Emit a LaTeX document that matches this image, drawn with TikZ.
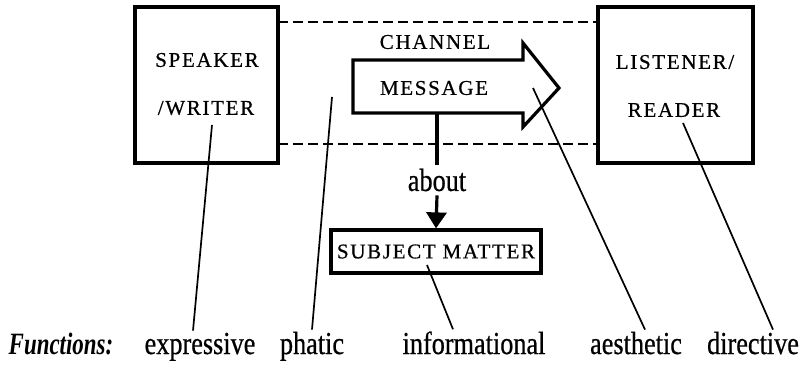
\documentclass[tikz,border=0pt]{standalone}
\usepackage{fontspec}
\usetikzlibrary{arrows.meta}
\setmainfont{Liberation Serif}
\newfontfamily\capfont[LetterSpace=8,FakeBold=0.6]{Liberation Serif}
\newfontfamily\lowfont[FakeStretch=0.82,FakeBold=0.6]{Liberation Serif}
\newfontfamily\funfont[FakeStretch=0.74]{Liberation Serif}
\tikzset{
  box/.style={draw, line width=3.2pt, inner sep=0pt},
  capt/.style={font=\capfont\fontsize{21}{21}\selectfont, inner sep=1pt},
  word/.style={font=\lowfont\fontsize{32}{32}\selectfont, inner sep=2pt, anchor=base},
  dashline/.style={line width=2pt, dash pattern=on 10pt off 5pt},
  pointer/.style={line width=1.7pt},
  thickline/.style={line width=3.2pt}
}
\begin{document}
\begin{tikzpicture}[x=1pt,y=-1pt]
\useasboundingbox (0,0) rectangle (808,369);
% boxes
\node[box, minimum width=143pt, minimum height=156pt] (spk) at (206.5,85) {};
\node[capt] (spk1) at (207,60) {SPEAKER};
\node[capt] (spk2) at (206,108) {/WRITER};
\node[box, minimum width=155pt, minimum height=156pt] (lst) at (675.5,85) {};
\node[capt] (lst1) at (675,62) {LISTENER/};
\node[capt] (lst2) at (674,110) {READER};
% channel
\coordinate (ct1) at (278,22);
\coordinate (ct2) at (598,22);
\coordinate (cb1) at (278,144);
\coordinate (cb2) at (598,144);
\draw[dashline] (ct1) -- (ct2);
\draw[dashline] (cb1) -- (cb2);
\node[capt] (chan) at (435,42) {CHANNEL};
% message arrow
\draw[line width=3.2pt, line join=miter, fill=white]
  (353,60) -- (523,60) -- (523,43) -- (559,88) -- (523,127) -- (523,113) -- (353,113) -- cycle;
\node[capt] (msg) at (434,88) {MESSAGE};
% about
\coordinate (msgbot) at (437,113);
\node[font=\lowfont\fontsize{32}{32}\selectfont, inner sep=4pt] (about) at (437,180) {about};
\node[box, minimum width=210pt, minimum height=43pt, font=\capfont\fontsize{21}{21}\selectfont] (subj) at (436,251.5) {SUBJECT MATTER};
\draw[thickline] (msgbot) -- (about.north);
\draw[thickline, -{Triangle[length=16pt,width=20pt]}] (about.south) -- (subj.north);
% function words
\node[font=\funfont\bfseries\itshape\fontsize{31}{31}\selectfont, inner sep=2pt, anchor=base] (fun) at (61,354) {Functions:};
\node[word] (fexp) at (200,354) {expressive};
\node[word] (fpha) at (312,354) {phatic};
\node[word] (finf) at (474,354) {informational};
\node[word] (faes) at (636,354) {aesthetic};
\node[word] (fdir) at (753,354) {directive};
% pointers
\coordinate (pexp) at (212,125);
\coordinate (ppha) at (332,97);
\coordinate (pinf) at (427,265);
\coordinate (paes) at (533,88);
\coordinate (pdir) at (683,123);
\draw[pointer] (pexp) -- ([xshift=-7pt]fexp.north);
\draw[pointer] (ppha) -- (fpha.north);
\draw[pointer] (pinf) -- ([xshift=-21pt]finf.north);
\draw[pointer] (paes) -- ([xshift=9pt]faes.north);
\draw[pointer] (pdir) -- ([xshift=20pt]fdir.north);
\end{tikzpicture}
\end{document}
